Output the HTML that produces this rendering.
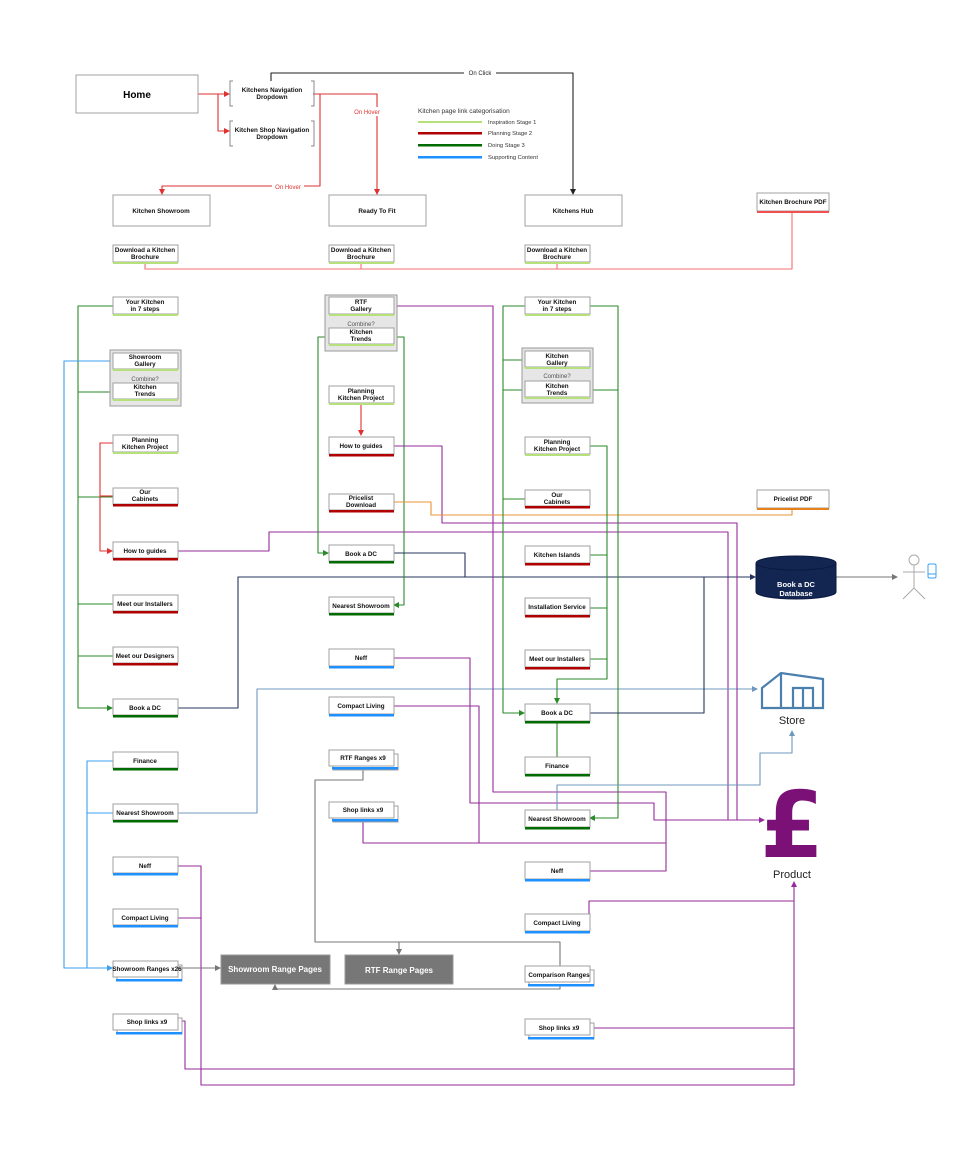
<!DOCTYPE html>
<html><head><meta charset="utf-8"><style>
html,body{margin:0;padding:0;background:#fff;}
svg{display:block;font-family:"Liberation Sans",Arial,sans-serif;}
.b{fill:#fff;stroke:#a0a0a0;stroke-width:1;}
.t{font-size:6.3px;font-weight:bold;fill:#111;text-anchor:middle;}
.l{fill:none;stroke-width:1.1;stroke-linejoin:round;}
.g{stroke:#2a8a2a}.p{stroke:#952a9a}.r{stroke:#e03030}.nv{stroke:#25345e}.sb{stroke:#6f98be}.bl{stroke:#3ba0f0}.gr{stroke:#777}.or{stroke:#e8943a}.pk{stroke:#f07070}
</style></head><body>
<svg width="970" height="1164" viewBox="0 0 970 1164" xmlns="http://www.w3.org/2000/svg">
<defs>
<marker id="a" markerWidth="6" markerHeight="6" refX="5" refY="3" orient="auto" markerUnits="userSpaceOnUse"><path d="M0,0 L6,3 L0,6 z" fill="context-stroke"/></marker>
</defs>

<path class="l r" d="M198,94 H229" marker-end="url(#a)"/>
<path class="l r" d="M218,94 V131 H229" marker-end="url(#a)"/>
<path class="l r" d="M313,94 H377 V194" marker-end="url(#a)"/>
<path class="l r" d="M320,94 V186 H162 V194" marker-end="url(#a)"/>
<rect x="350" y="107" width="32" height="9" fill="#fff"/><text x="367" y="114" font-size="6" fill="#e03030" text-anchor="middle">On Hover</text>
<rect x="272" y="182" width="32" height="9" fill="#fff"/><text x="288" y="189" font-size="6" fill="#e03030" text-anchor="middle">On Hover</text>
<path class="l" stroke="#222" d="M271,81 V73 H573 V194" marker-end="url(#a)"/>
<rect x="464" y="68" width="32" height="9" fill="#fff"/><text x="480" y="75" font-size="6" fill="#222" text-anchor="middle">On Click</text>
<path class="l pk" d="M145,263 V269 H792 V212 M361,263 V269 M557,263 V269"/>

<path class="l g" d="M113,306 H78 V708 H112" marker-end="url(#a)"/>
<path class="l g" d="M113,392 H78 M113,497 H78 M113,604 H78 M113,656 H78"/>
<path class="l bl" d="M113,361 H64 V968 H112" marker-end="url(#a)"/>
<path class="l bl" d="M113,761 H87 V968 M113,813 H87"/>
<path class="l r" stroke="#c03030" d="M113,443 H100 V551 H112" marker-end="url(#a)"/>
<path class="l r" stroke="#c03030" d="M100,496 H113"/>
<path class="l p" d="M178,551 H269 V532 H728 V820"/>
<path class="l nv" d="M178,708 H238 V577 H755" marker-end="url(#a)"/>
<path class="l sb" d="M178,813 H257 V689 H757" marker-end="url(#a)"/>
<path class="l p" d="M178,866 H201 V1085 H794 V882" marker-end="url(#a)"/>
<path class="l p" d="M178,918 H201"/>
<path class="l p" d="M181,1021 H185 V1069 H794"/>
<path class="l gr" d="M181,968 H220" marker-end="url(#a)"/>

<path class="l p" d="M393,306 H493 V792 H666 V871 H589"/>
<path class="l g" d="M329,337 H318 V553 H328" marker-end="url(#a)"/>
<path class="l g" d="M393,337 H404 V605 H394" marker-end="url(#a)"/>
<path class="l r" stroke="#c03030" d="M361,404 V435" marker-end="url(#a)"/>
<path class="l p" d="M393,446 H442 V523 H737 V820"/>
<path class="l or" d="M393,502 H431 V515 H792 V510"/>
<path class="l nv" d="M393,553 H465 V577"/>
<path class="l p" d="M393,658 H470 V803 H654 V820 H764" marker-end="url(#a)"/>
<path class="l p" d="M393,706 H479 V843 H666 M363,820 V843 H479"/>
<path class="l gr" d="M363,768 V780 H315 V942 H560 V966 M399,942 V954" marker-end="url(#a)"/>
<path class="l gr" d="M560,985 V989 H275 V985" marker-end="url(#a)"/>

<path class="l g" d="M525,306 H503 V713 H524" marker-end="url(#a)"/>
<path class="l g" d="M525,360 H503 M525,390 H503 M525,499 H503"/>
<path class="l g" d="M589,306 H618 V818 H590" marker-end="url(#a)"/>
<path class="l g" d="M589,390 H618"/>
<path class="l g" d="M589,446 H607 V679 H557 V703" marker-end="url(#a)"/>
<path class="l g" d="M589,555 H607 M589,608 H607 M589,659 H607 M557,723 V757"/>
<path class="l nv" d="M589,713 H704 V577"/>
<path class="l sb" d="M557,810 V785 H760 V753 H792 V731" marker-end="url(#a)"/>
<path class="l p" d="M589,922 H589 V901 H794"/>
<path class="l p" d="M589,1028 H794"/>
<path class="l gr" d="M836,577 H897" marker-end="url(#a)"/>

<rect class="b" x="76" y="75" width="122" height="38"/>
<text x="137" y="98" font-size="10" font-weight="bold" text-anchor="middle">Home</text>
<rect x="231" y="81" width="82" height="25" fill="#fff"/>
<path d="M233,81 H230 V106 H233 M311,81 H314 V106 H311" fill="none" stroke="#888"/>
<text class="t" x="272" y="92">Kitchens Navigation</text><text class="t" x="272" y="99">Dropdown</text>
<rect x="231" y="121" width="82" height="25" fill="#fff"/>
<path d="M233,121 H230 V146 H233 M311,121 H314 V146 H311" fill="none" stroke="#888"/>
<text class="t" x="272" y="132">Kitchen Shop Navigation</text><text class="t" x="272" y="139">Dropdown</text>

<rect class="b" x="113" y="195" width="97" height="31"/><text class="t" x="161" y="213">Kitchen Showroom</text>
<rect class="b" x="329" y="195" width="97" height="31"/><text class="t" x="377" y="213">Ready To Fit</text>
<rect class="b" x="525" y="195" width="97" height="31"/><text class="t" x="573" y="213">Kitchens Hub</text>

<rect class="b" x="757" y="193" width="72" height="18"/><rect x="757" y="211" width="72" height="2" fill="#f05050"/>
<text class="t" x="793" y="204">Kitchen Brochure PDF</text>
<rect class="b" x="757" y="490" width="72" height="18"/><rect x="757" y="508" width="72" height="2" fill="#e8801a"/>
<text class="t" x="793" y="501">Pricelist PDF</text>

<text x="418" y="113" font-size="6.5" fill="#333">Kitchen page link categorisation</text>
<rect x="418" y="121" width="64" height="2" fill="#b5e07a"/><text x="488" y="124" font-size="5.8" fill="#333">Inspiration Stage 1</text>
<rect x="418" y="132" width="64" height="2.5" fill="#b00000"/><text x="488" y="135" font-size="5.8" fill="#333">Planning Stage 2</text>
<rect x="418" y="144" width="64" height="2.5" fill="#006b00"/><text x="488" y="147" font-size="5.8" fill="#333">Doing Stage 3</text>
<rect x="418" y="156" width="64" height="2.5" fill="#1e90ff"/><text x="488" y="159" font-size="5.8" fill="#333">Supporting Content</text>

<rect x="110" y="350" width="71" height="56" fill="#e6e6e6" stroke="#999"/>
<text x="145" y="381" font-size="6" fill="#555" text-anchor="middle">Combine?</text>
<rect x="325" y="295" width="72" height="56" fill="#e6e6e6" stroke="#999"/>
<text x="361" y="326" font-size="6" fill="#555" text-anchor="middle">Combine?</text>
<rect x="522" y="348" width="71" height="55" fill="#e6e6e6" stroke="#999"/>
<text x="557" y="378" font-size="6" fill="#555" text-anchor="middle">Combine?</text>

<g><rect class="b" x="113" y="245" width="65" height="17"/><rect x="113" y="262" width="65" height="2" fill="#b5e07a"/><text class="t" x="145" y="252">Download a Kitchen</text><text class="t" x="145" y="259">Brochure</text></g>
<g><rect class="b" x="329" y="245" width="65" height="17"/><rect x="329" y="262" width="65" height="2" fill="#b5e07a"/><text class="t" x="361" y="252">Download a Kitchen</text><text class="t" x="361" y="259">Brochure</text></g>
<g><rect class="b" x="525" y="245" width="65" height="17"/><rect x="525" y="262" width="65" height="2" fill="#b5e07a"/><text class="t" x="557" y="252">Download a Kitchen</text><text class="t" x="557" y="259">Brochure</text></g>

<rect class="b" x="113" y="297" width="65" height="17"/><rect x="113" y="314" width="65" height="2" fill="#b5e07a"/><text class="t" x="145" y="304">Your Kitchen</text><text class="t" x="145" y="311">in 7 steps</text>
<rect class="b" x="113" y="353" width="65" height="16"/><rect x="113" y="369" width="65" height="2" fill="#b5e07a"/><text class="t" x="145" y="359">Showroom</text><text class="t" x="145" y="366">Gallery</text>
<rect class="b" x="113" y="383" width="65" height="16"/><rect x="113" y="399" width="65" height="2" fill="#b5e07a"/><text class="t" x="145" y="389">Kitchen</text><text class="t" x="145" y="396">Trends</text>
<rect class="b" x="113" y="435" width="65" height="17"/><rect x="113" y="452" width="65" height="2" fill="#b5e07a"/><text class="t" x="145" y="442">Planning</text><text class="t" x="145" y="449">Kitchen Project</text>
<rect class="b" x="113" y="488" width="65" height="16" stroke="#e03030"/><rect x="113" y="504" width="65" height="2.5" fill="#b00000"/><text class="t" x="145" y="494">Our</text><text class="t" x="145" y="501">Cabinets</text>
<rect class="b" x="113" y="542" width="65" height="16"/><rect x="113" y="558" width="65" height="2.5" fill="#b00000"/><text class="t" x="145" y="553">How to guides</text>
<rect class="b" x="113" y="595" width="65" height="16"/><rect x="113" y="611" width="65" height="2.5" fill="#b00000"/><text class="t" x="145" y="606">Meet our Installers</text>
<rect class="b" x="113" y="647" width="65" height="16"/><rect x="113" y="663" width="65" height="2.5" fill="#b00000"/><text class="t" x="145" y="658">Meet our Designers</text>
<rect class="b" x="113" y="699" width="65" height="16"/><rect x="113" y="715" width="65" height="2.5" fill="#006b00"/><text class="t" x="145" y="710">Book a DC</text>
<rect class="b" x="113" y="752" width="65" height="16"/><rect x="113" y="768" width="65" height="2.5" fill="#006b00"/><text class="t" x="145" y="763">Finance</text>
<rect class="b" x="113" y="804" width="65" height="16"/><rect x="113" y="820" width="65" height="2.5" fill="#006b00"/><text class="t" x="145" y="815">Nearest Showroom</text>
<rect class="b" x="113" y="857" width="65" height="16"/><rect x="113" y="873" width="65" height="2.5" fill="#1e90ff"/><text class="t" x="145" y="868">Neff</text>
<rect class="b" x="113" y="909" width="65" height="16"/><rect x="113" y="925" width="65" height="2.5" fill="#1e90ff"/><text class="t" x="145" y="920">Compact Living</text>
<rect class="b" x="117" y="965" width="65" height="16"/><rect class="b" x="113" y="961" width="65" height="16"/><rect x="116" y="979" width="66" height="2.5" fill="#1e90ff"/><text class="t" x="147" y="971">Showroom Ranges x26</text>
<rect class="b" x="117" y="1018" width="65" height="16"/><rect class="b" x="113" y="1014" width="65" height="16"/><rect x="116" y="1032" width="66" height="2.5" fill="#1e90ff"/><text class="t" x="147" y="1024">Shop links x9</text>

<rect class="b" x="329" y="297" width="65" height="17"/><rect x="329" y="314" width="65" height="2" fill="#b5e07a"/><text class="t" x="361" y="304">RTF</text><text class="t" x="361" y="311">Gallery</text>
<rect class="b" x="329" y="328" width="65" height="16"/><rect x="329" y="344" width="65" height="2" fill="#b5e07a"/><text class="t" x="361" y="334">Kitchen</text><text class="t" x="361" y="341">Trends</text>
<rect class="b" x="329" y="386" width="65" height="17"/><rect x="329" y="403" width="65" height="2" fill="#b5e07a"/><text class="t" x="361" y="393">Planning</text><text class="t" x="361" y="400">Kitchen Project</text>
<rect class="b" x="329" y="437" width="65" height="17"/><rect x="329" y="454" width="65" height="2.5" fill="#b00000"/><text class="t" x="361" y="448">How to guides</text>
<rect class="b" x="329" y="494" width="65" height="16"/><rect x="329" y="510" width="65" height="2.5" fill="#b00000"/><text class="t" x="361" y="500">Pricelist</text><text class="t" x="361" y="507">Download</text>
<rect class="b" x="329" y="545" width="65" height="16"/><rect x="329" y="561" width="65" height="2.5" fill="#006b00"/><text class="t" x="361" y="556">Book a DC</text>
<rect class="b" x="329" y="597" width="65" height="16"/><rect x="329" y="613" width="65" height="2.5" fill="#006b00"/><text class="t" x="361" y="608">Nearest Showroom</text>
<rect class="b" x="329" y="649" width="65" height="17"/><rect x="329" y="666" width="65" height="2.5" fill="#1e90ff"/><text class="t" x="361" y="660">Neff</text>
<rect class="b" x="329" y="697" width="65" height="17"/><rect x="329" y="714" width="65" height="2.5" fill="#1e90ff"/><text class="t" x="361" y="708">Compact Living</text>
<rect class="b" x="333" y="754" width="65" height="16"/><rect class="b" x="329" y="750" width="65" height="16"/><rect x="332" y="767" width="66" height="2.5" fill="#1e90ff"/><text class="t" x="363" y="760">RTF Ranges x9</text>
<rect class="b" x="333" y="806" width="65" height="16"/><rect class="b" x="329" y="802" width="65" height="16"/><rect x="332" y="819" width="66" height="2.5" fill="#1e90ff"/><text class="t" x="363" y="812">Shop links x9</text>

<rect class="b" x="525" y="297" width="65" height="17"/><rect x="525" y="314" width="65" height="2" fill="#b5e07a"/><text class="t" x="557" y="304">Your Kitchen</text><text class="t" x="557" y="311">in 7 steps</text>
<rect class="b" x="525" y="351" width="65" height="16"/><rect x="525" y="367" width="65" height="2" fill="#b5e07a"/><text class="t" x="557" y="358">Kitchen</text><text class="t" x="557" y="365">Gallery</text>
<rect class="b" x="525" y="381" width="65" height="16"/><rect x="525" y="397" width="65" height="2" fill="#b5e07a"/><text class="t" x="557" y="388">Kitchen</text><text class="t" x="557" y="395">Trends</text>
<rect class="b" x="525" y="437" width="65" height="17"/><rect x="525" y="454" width="65" height="2" fill="#b5e07a"/><text class="t" x="557" y="444">Planning</text><text class="t" x="557" y="451">Kitchen Project</text>
<rect class="b" x="525" y="490" width="65" height="16"/><rect x="525" y="506" width="65" height="2.5" fill="#b00000"/><text class="t" x="557" y="497">Our</text><text class="t" x="557" y="504">Cabinets</text>
<rect class="b" x="525" y="546" width="65" height="17"/><rect x="525" y="563" width="65" height="2.5" fill="#b00000"/><text class="t" x="557" y="557">Kitchen Islands</text>
<rect class="b" x="525" y="598" width="65" height="17"/><rect x="525" y="615" width="65" height="2.5" fill="#b00000"/><text class="t" x="557" y="609">Installation Service</text>
<rect class="b" x="525" y="650" width="65" height="17"/><rect x="525" y="667" width="65" height="2.5" fill="#b00000"/><text class="t" x="557" y="661">Meet our Installers</text>
<rect class="b" x="525" y="704" width="65" height="17"/><rect x="525" y="721" width="65" height="2.5" fill="#006b00"/><text class="t" x="557" y="715">Book a DC</text>
<rect class="b" x="525" y="757" width="65" height="17"/><rect x="525" y="774" width="65" height="2.5" fill="#006b00"/><text class="t" x="557" y="768">Finance</text>
<rect class="b" x="525" y="810" width="65" height="17"/><rect x="525" y="827" width="65" height="2.5" fill="#006b00"/><text class="t" x="557" y="821">Nearest Showroom</text>
<rect class="b" x="525" y="862" width="65" height="17"/><rect x="525" y="879" width="65" height="2.5" fill="#1e90ff"/><text class="t" x="557" y="873">Neff</text>
<rect class="b" x="525" y="914" width="65" height="17"/><rect x="525" y="931" width="65" height="2.5" fill="#1e90ff"/><text class="t" x="557" y="925">Compact Living</text>
<rect class="b" x="529" y="970" width="65" height="16"/><rect class="b" x="525" y="966" width="65" height="16"/><rect x="528" y="984" width="66" height="2.5" fill="#1e90ff"/><text class="t" x="559" y="977">Comparison Ranges</text>
<rect class="b" x="529" y="1023" width="65" height="16"/><rect class="b" x="525" y="1019" width="65" height="16"/><rect x="528" y="1037" width="66" height="2.5" fill="#1e90ff"/><text class="t" x="559" y="1030">Shop links x9</text>

<rect x="221" y="955" width="109" height="29" fill="#777" stroke="#999"/>
<text x="275" y="972" font-size="8" font-weight="bold" fill="#fff" text-anchor="middle">Showroom Range Pages</text>
<rect x="345" y="955" width="108" height="29" fill="#777" stroke="#999"/>
<text x="399" y="973" font-size="8" font-weight="bold" fill="#fff" text-anchor="middle">RTF Range Pages</text>

<path d="M756,563 V592 A40,7 0 0 0 836,592 V563" fill="#132551" stroke="#0a1a40"/>
<ellipse cx="796" cy="563" rx="40" ry="7" fill="#132551" stroke="#0a1a40"/>
<text x="796" y="587" font-size="7.5" font-weight="bold" fill="#fff" text-anchor="middle">Book a DC</text>
<text x="796" y="596" font-size="7.5" font-weight="bold" fill="#fff" text-anchor="middle">Database</text>

<g fill="none" stroke="#aaa" stroke-width="1">
<circle cx="914" cy="560" r="5"/>
<path d="M914,565 V588 M903,572 H925 M914,588 L903,599 M914,588 L925,599"/>
</g>
<rect x="928" y="564" width="8" height="14" rx="1.5" fill="none" stroke="#3ba0f0"/>
<path d="M928,574 H936" stroke="#3ba0f0"/>

<g fill="none" stroke="#4a7fae" stroke-width="2.2">
<path d="M762,708 V688 L781,673 L823,679 V708 Z"/>
<path d="M781,673 V708 M793,708 V688 H813 V708 M803,688 V708"/>
</g>
<text x="792" y="724" font-size="11" fill="#222" text-anchor="middle">Store</text>

<text x="792" y="857" font-family="DejaVu Sans, sans-serif" font-size="92" font-weight="bold" fill="#7b1177" text-anchor="middle">£</text>
<text x="792" y="878" font-size="11" fill="#222" text-anchor="middle">Product</text>
</svg>
</body></html>
